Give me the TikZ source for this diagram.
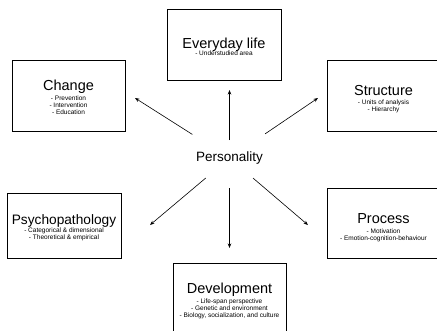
\documentclass[tikz,border=0pt]{standalone}
\usepackage{fontspec}
\setmainfont{Liberation Sans}
\usetikzlibrary{arrows.meta,shadows}
\begin{document}
\begin{tikzpicture}[x=1pt,y=-1pt,
  box/.style={draw=black,line width=0.6pt,fill=white,inner sep=0pt,
     drop shadow={shadow xshift=1pt,shadow yshift=-1pt,fill=gray!85,opacity=1}},
  ttl/.style={anchor=base,inner sep=0pt,font=\fontsize{14.5}{16}\selectfont},
  sub/.style={anchor=north,inner sep=0pt,align=center,font=\fontsize{6.5}{7}\selectfont},
  arr/.style={line width=0.6pt,-{Stealth[length=4.5pt,width=3.5pt]}}]
\useasboundingbox (0,0) rectangle (437,330);
\clip (0,0) rectangle (437,330);

% boxes
\node[box,minimum width=114pt,minimum height=71pt] (everyday) at (224,44.5) {};
\node[box,minimum width=113pt,minimum height=71pt] (change) at (68.5,95.5) {};
\node[box,minimum width=113pt,minimum height=71pt] (structure) at (383.5,95.5) {};
\node[box,minimum width=114pt,minimum height=65pt] (psycho) at (64,225.5) {};
\node[box,minimum width=113pt,minimum height=70pt] (process) at (383.5,223) {};
\node[box,minimum width=113pt,minimum height=71pt] (develop) at (229.5,298.5) {};

% texts
\node[ttl] (everydayT) at (224,48) {Everyday life};
\node[sub] (everydayS) at (224,51) {- Understudied area};

\node[ttl] (changeT) at (68.5,90) {Change};
\node[sub] (changeS) at (68.5,96) {- Prevention\\- Intervention\\- Education};

\node[ttl] (structureT) at (383.5,95) {Structure};
\node[sub] (structureS) at (383.5,100) {- Units of analysis\\- Hierarchy};

\node[ttl,font=\fontsize{13.7}{15}\selectfont] (psychoT) at (64,224) {Psychopathology};
\node[sub] (psychoS) at (64,228) {- Categorical \& dimensional\\- Theoretical \& empirical};

\node[ttl] (processT) at (383.5,223) {Process};
\node[sub] (processS) at (383.5,228.5) {- Motivation\\- Emotion-cognition-behaviour};

\node[ttl] (developT) at (229.5,293) {Development};
\node[sub] (developS) at (229.5,299) {- Life-span perspective\\- Genetic and environment\\- Biology, socialization, and culture};

% centre
\node[inner sep=0pt,font=\fontsize{13.5}{15}\selectfont] (pers) at (229.5,158) {Personality};

% arrow ends
\coordinate (eUp) at (229.5,90);
\coordinate (eUL) at (135,98);
\coordinate (eUR) at (318,98);
\coordinate (eDL) at (150,225);
\coordinate (eD)  at (229.5,248);
\coordinate (eDR) at (308,225);

\draw[arr,shorten <=18pt] (pers.center) -- (eUp);
\draw[arr,shorten <=44pt] (pers.center) -- (eUL);
\draw[arr,shorten <=43pt] (pers.center) -- (eUR);
\draw[arr,shorten <=31pt] (pers.center) -- (eDL);
\draw[arr,shorten <=30pt] (pers.center) -- (eD);
\draw[arr,shorten <=31pt] (pers.center) -- (eDR);
\end{tikzpicture}
\end{document}
